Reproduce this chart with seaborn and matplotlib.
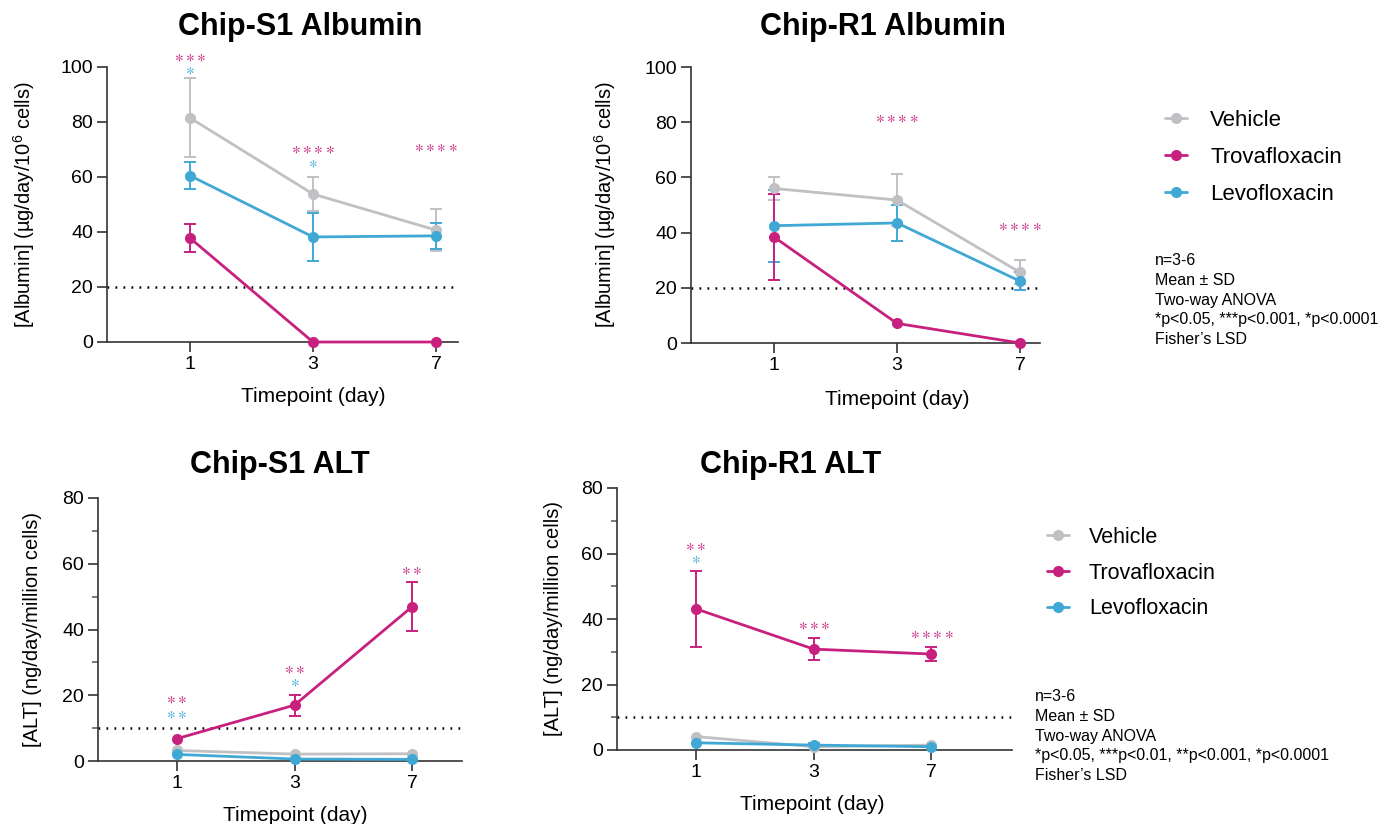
import numpy as np
import pandas as pd
import matplotlib
matplotlib.use("Agg")
import matplotlib.pyplot as plt
import seaborn as sns
from matplotlib.lines import Line2D
from matplotlib.ticker import MultipleLocator

days = ["1", "3", "7"]
groups = ["Vehicle", "Levofloxacin", "Trovafloxacin"]
legend_order = ["Vehicle", "Trovafloxacin", "Levofloxacin"]
colors = {"Vehicle": "#C0C0C5", "Trovafloxacin": "#C8207E", "Levofloxacin": "#40A8D5"}

# Chip-S1 albumin, mean / SD
s1_alb_mean = {"Vehicle": [81.5, 53.8, 40.7], "Trovafloxacin": [37.8, 0.0, 0.0], "Levofloxacin": [60.5, 38.2, 38.6]}
s1_alb_sd = {"Vehicle": [14.4, 6.2, 7.6], "Trovafloxacin": [5.2, 0.0, 0.0], "Levofloxacin": [4.8, 8.6, 4.8]}
# Chip-R1 albumin
r1_alb_mean = {"Vehicle": [56.0, 51.8, 25.6], "Trovafloxacin": [38.4, 7.1, 0.0], "Levofloxacin": [42.5, 43.5, 22.4]}
r1_alb_sd = {"Vehicle": [4.3, 9.5, 4.4], "Trovafloxacin": [15.5, 0.0, 0.0], "Levofloxacin": [13.0, 6.5, 3.2]}
# Chip-S1 ALT
s1_alt_mean = {"Vehicle": [3.2, 2.1, 2.2], "Trovafloxacin": [6.8, 17.0, 46.9], "Levofloxacin": [2.0, 0.6, 0.5]}
s1_alt_sd = {"Vehicle": [0.0, 0.0, 0.0], "Trovafloxacin": [0.0, 3.2, 7.5], "Levofloxacin": [0.0, 0.0, 0.0]}
# Chip-R1 ALT
r1_alt_mean = {"Vehicle": [4.1, 1.0, 1.5], "Trovafloxacin": [43.1, 30.8, 29.3], "Levofloxacin": [2.2, 1.5, 1.0]}
r1_alt_sd = {"Vehicle": [0.0, 0.0, 0.0], "Trovafloxacin": [11.7, 3.3, 2.0], "Levofloxacin": [0.0, 0.5, 0.0]}

# significance marks: (day index, y, number of stars, group colour)
s1_alb_stars = [(0, 103.6, 3, "Trovafloxacin"), (0, 99.0, 1, "Levofloxacin"),
                (1, 70.0, 4, "Trovafloxacin"), (1, 65.0, 1, "Levofloxacin"),
                (2, 71.0, 4, "Trovafloxacin")]
r1_alb_stars = [(1, 81.5, 4, "Trovafloxacin"), (2, 42.5, 4, "Trovafloxacin")]
s1_alt_stars = [(0, 18.7, 2, "Trovafloxacin"), (0, 14.4, 2, "Levofloxacin"),
                (1, 28.0, 2, "Trovafloxacin"), (1, 24.0, 1, "Levofloxacin"),
                (2, 58.0, 2, "Trovafloxacin")]
r1_alt_stars = [(0, 62.2, 2, "Trovafloxacin"), (0, 58.2, 1, "Levofloxacin"),
                (1, 38.0, 3, "Trovafloxacin"), (2, 35.3, 4, "Trovafloxacin")]

notes_top = "n=3-6\nMean ± SD\nTwo-way ANOVA\n*p<0.05, ***p<0.001, *p<0.0001\nFisher’s LSD"
notes_bottom = "n=3-6\nMean ± SD\nTwo-way ANOVA\n*p<0.05, ***p<0.01, **p<0.001, *p<0.0001\nFisher’s LSD"

sns.set_style("ticks")
plt.rcParams["font.family"] = ["Liberation Sans", "DejaVu Sans"]
plt.rcParams["mathtext.default"] = "regular"
for k in ["text.color", "axes.labelcolor", "xtick.labelcolor", "ytick.labelcolor"]:
    plt.rcParams[k] = "black"

W, H = 1382, 824
fig = plt.figure(figsize=(W / 100, H / 100), dpi=100)


def add_axes_px(left, top, right, bottom):
    return fig.add_axes([left / W, 1 - bottom / H, (right - left) / W, (bottom - top) / H])


def to_long(means, sds):
    rows = []
    for g in groups:
        for i, d in enumerate(days):
            rows.append({"group": g, "pos": i, "day": d, "mean": means[g][i], "sd": sds[g][i]})
    return pd.DataFrame(rows)


def star_text(n):
    # mathtext asterisks: centred glyphs with a tight box
    return "$" + r"\/".join([r"{\ast}"] * n) + "$"


def draw_panel(ax, means, sds, stars, ymax, ref, ylabel, tick1_px, unit_px, left_px, right_px,
               minor, ylab_off, xlab_x, xlab_y):
    df = to_long(means, sds)
    for g in groups:
        sub = df[(df["group"] == g) & (df["sd"] > 0)]
        if len(sub):
            ax.errorbar(sub["pos"], sub["mean"], yerr=sub["sd"], fmt="none", ecolor=colors[g],
                        elinewidth=1.4, capsize=4.2, capthick=1.4, zorder=2, clip_on=False)
    sns.lineplot(data=df, x="pos", y="mean", hue="group", hue_order=groups, palette=colors,
                 marker="o", markersize=8, markeredgewidth=0, linewidth=2.0, legend=False,
                 ax=ax, zorder=3, clip_on=False)
    ax.axhline(ref, color="black", lw=1.8, ls=(0, (0.7, 2.5)), zorder=1)
    for pos, y, n, g in stars:
        ax.text(pos, y, star_text(n), color=colors[g], ha="center", va="center",
                fontsize=12, clip_on=False)
    ax.set_ylim(0, ymax)
    ax.set_xlim(-(tick1_px - left_px) / unit_px, (right_px - tick1_px) / unit_px)
    ax.set_xticks(range(len(days)))
    ax.set_xticklabels(days)
    ax.set_yticks(np.arange(0, ymax + 1, 20))
    if minor:
        ax.yaxis.set_minor_locator(MultipleLocator(10))
        ax.tick_params(axis="y", which="minor", length=4, width=1.1, color="#555555")
    ax.tick_params(axis="both", which="major", length=7, width=1.2, labelsize=14, pad=3,
                   color="#333333")
    for s in ["top", "right"]:
        ax.spines[s].set_visible(False)
    for s in ["left", "bottom"]:
        ax.spines[s].set_linewidth(1.2)
        ax.spines[s].set_color("#333333")
    ax.set_ylabel(ylabel, fontsize=14.5)
    ax.set_xlabel("Timepoint (day)", fontsize=15)
    ax.yaxis.set_label_coords(ylab_off, 0.5)
    ax.xaxis.set_label_coords(xlab_x, xlab_y)


ax1 = add_axes_px(107, 67, 458, 342)
draw_panel(ax1, s1_alb_mean, s1_alb_sd, s1_alb_stars, 100, 20,
           "[Albumin] (µg/day/10$^6$ cells)", 190, 123, 107, 458, False, -0.2, 0.587, -0.162)
ax2 = add_axes_px(691, 67, 1040, 343)
draw_panel(ax2, r1_alb_mean, r1_alb_sd, r1_alb_stars, 100, 20,
           "[Albumin] (µg/day/10$^6$ cells)", 774, 123, 691, 1040, False, -0.209, 0.59, -0.17)
ax3 = add_axes_px(98, 498, 462, 761)
draw_panel(ax3, s1_alt_mean, s1_alt_sd, s1_alt_stars, 80, 10,
           "[ALT] (ng/day/million cells)", 177, 117.5, 98, 462, True, -0.154, 0.541, -0.172)
ax4 = add_axes_px(617, 488, 1012, 750)
draw_panel(ax4, r1_alt_mean, r1_alt_sd, r1_alt_stars, 80, 10,
           "[ALT] (ng/day/million cells)", 696, 117.7, 617, 1012, True, -0.137, 0.494, -0.17)

title_kw = dict(fontsize=22, fontweight="bold", ha="center", va="center", color="black")
fig.text(300 / W, 1 - 27 / H, "Chip-S1 Albumin", **title_kw)
fig.text(883 / W, 1 - 27 / H, "Chip-R1 Albumin", **title_kw)
fig.text(280 / W, 1 - 465 / H, "Chip-S1 ALT", **title_kw)
fig.text(791 / W, 1 - 465 / H, "Chip-R1 ALT", **title_kw)

handles = [Line2D([0], [0], color=colors[g], marker="o", markersize=7, lw=2.0) for g in legend_order]
fig.legend(handles, legend_order, loc="upper left", bbox_to_anchor=(1165 / W, 1 - 110 / H),
           frameon=False, fontsize=16, handlelength=1.0, handletextpad=1.03, labelspacing=0.72,
           borderpad=0, borderaxespad=0)
fig.legend(handles, legend_order, loc="upper left", bbox_to_anchor=(1047 / W, 1 - 527 / H),
           frameon=False, fontsize=15.5, handlelength=1.0, handletextpad=0.95, labelspacing=0.68,
           borderpad=0, borderaxespad=0)

fig.text(1155 / W, 1 - 253 / H, notes_top, fontsize=11.5, va="top", ha="left", linespacing=1.4)
fig.text(1035 / W, 1 - 689 / H, notes_bottom, fontsize=11.5, va="top", ha="left", linespacing=1.4)

fig.savefig("out.png", dpi=100)
